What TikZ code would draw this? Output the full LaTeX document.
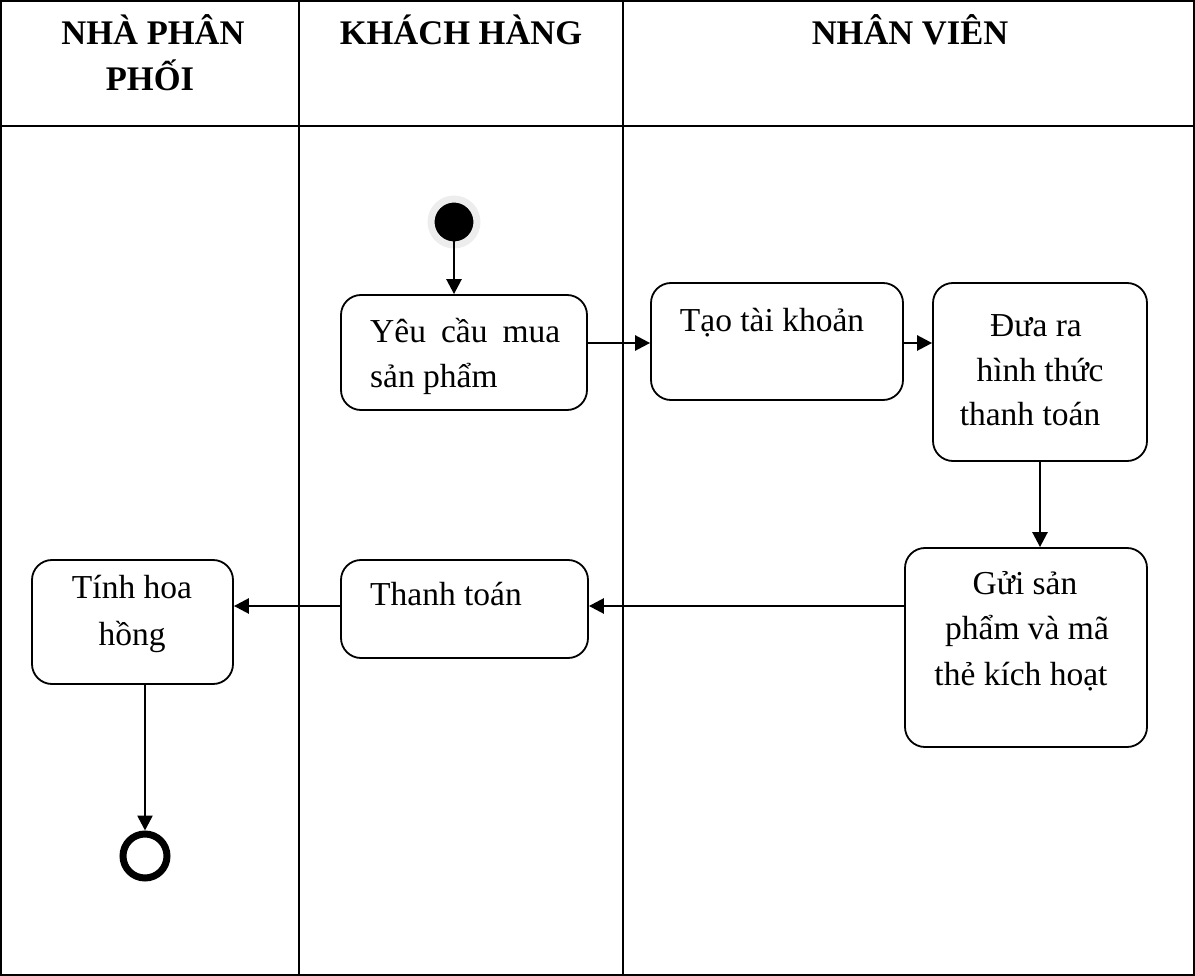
\documentclass[tikz,border=0pt]{standalone}
\usepackage{fontspec}
\setmainfont{Liberation Serif}
\usetikzlibrary{arrows.meta,calc}

\begin{document}
\begin{tikzpicture}[x=1pt,y=-1pt,
  lane/.style={line width=2pt},
  act/.style={draw, line width=1.8pt, rounded corners=20pt, inner sep=0pt},
  txt/.style={font=\fontsize{33.5}{40}\selectfont, inner sep=0pt, anchor=base},
  head/.style={font=\fontsize{34.5}{40}\selectfont\bfseries, inner sep=0pt, anchor=base},
  flow/.style={line width=2.6pt, -{Triangle[length=15pt,width=15pt]}}]

\useasboundingbox (0,0) rectangle (1195,976);

% swimlane frame
\draw[lane] (1,1) rectangle (1194,975);
\draw[lane] (299,1) -- (299,975);
\draw[lane] (623,1) -- (623,975);
\draw[lane] (1,126) -- (1194,126);

% lane headers
\node[head] (h1a) at (153,45) {NHÀ PHÂN};
\node[head] (h1b) at (150,91) {PHỐI};
\node[head] (h2) at (461,45) {KHÁCH HÀNG};
\node[head] (h3) at (910,45) {NHÂN VIÊN};

% row levels for horizontal flows
\coordinate (row1) at (0,343);
\coordinate (row2) at (0,606);

% start and end
\node[circle, fill=black, draw=black!7, line width=7pt, minimum size=46pt, inner sep=0pt] (start) at (454,222) {};
\node[circle, draw, line width=7pt, minimum size=44pt, inner sep=0pt] (stop) at (145,856) {};

% activities
\node[act, minimum width=246pt, minimum height=115pt] (yeu) at (464,352.5) {};
\node[act, minimum width=252pt, minimum height=117pt] (tao) at (777,341.5) {};
\node[act, minimum width=214pt, minimum height=178pt] (dua) at (1040,372) {};
\node[act, minimum width=242pt, minimum height=199pt] (gui) at (1026,647.5) {};
\node[act, minimum width=247pt, minimum height=98pt] (thanh) at (464.5,609) {};
\node[act, minimum width=201pt, minimum height=124pt] (tinh) at (132.5,622) {};

% activity labels
\node[txt, anchor=base west] (yeu1) at (370,343) {\makebox[190pt][s]{Yêu cầu mua}};
\node[txt, anchor=base west] (yeu2) at (370,388) {sản phẩm};
\node[txt] (tao1) at (772,332) {Tạo tài khoản};
\node[txt] (dua1) at (1036,337) {Đưa ra};
\node[txt] (dua2) at (1040,382) {hình thức};
\node[txt] (dua3) at (1030,426) {thanh toán};
\node[txt] (gui1) at (1025,594) {Gửi sản};
\node[txt] (gui2) at (1027,639) {phẩm và mã};
\node[txt] (gui3) at (1021,685) {thẻ kích hoạt};
\node[txt] (thanh1) at (446,605) {Thanh toán};
\node[txt] (tinh1) at (132,598) {Tính hoa};
\node[txt] (tinh2) at (132,645) {hồng};

% control flow
\draw[flow] (start.center) -- (start |- yeu.north);
\draw[flow] (yeu.east |- row1) -- (tao.west |- row1);
\draw[flow] (tao.east |- row1) -- (dua.west |- row1);
\draw[flow] (dua.south) -- (dua.south |- gui.north);
\draw[flow] (gui.west |- row2) -- (thanh.east |- row2);
\draw[flow] (thanh.west |- row2) -- (tinh.east |- row2);
\draw[flow] (tinh.south -| stop) -- (stop.north);
\end{tikzpicture}
\end{document}
